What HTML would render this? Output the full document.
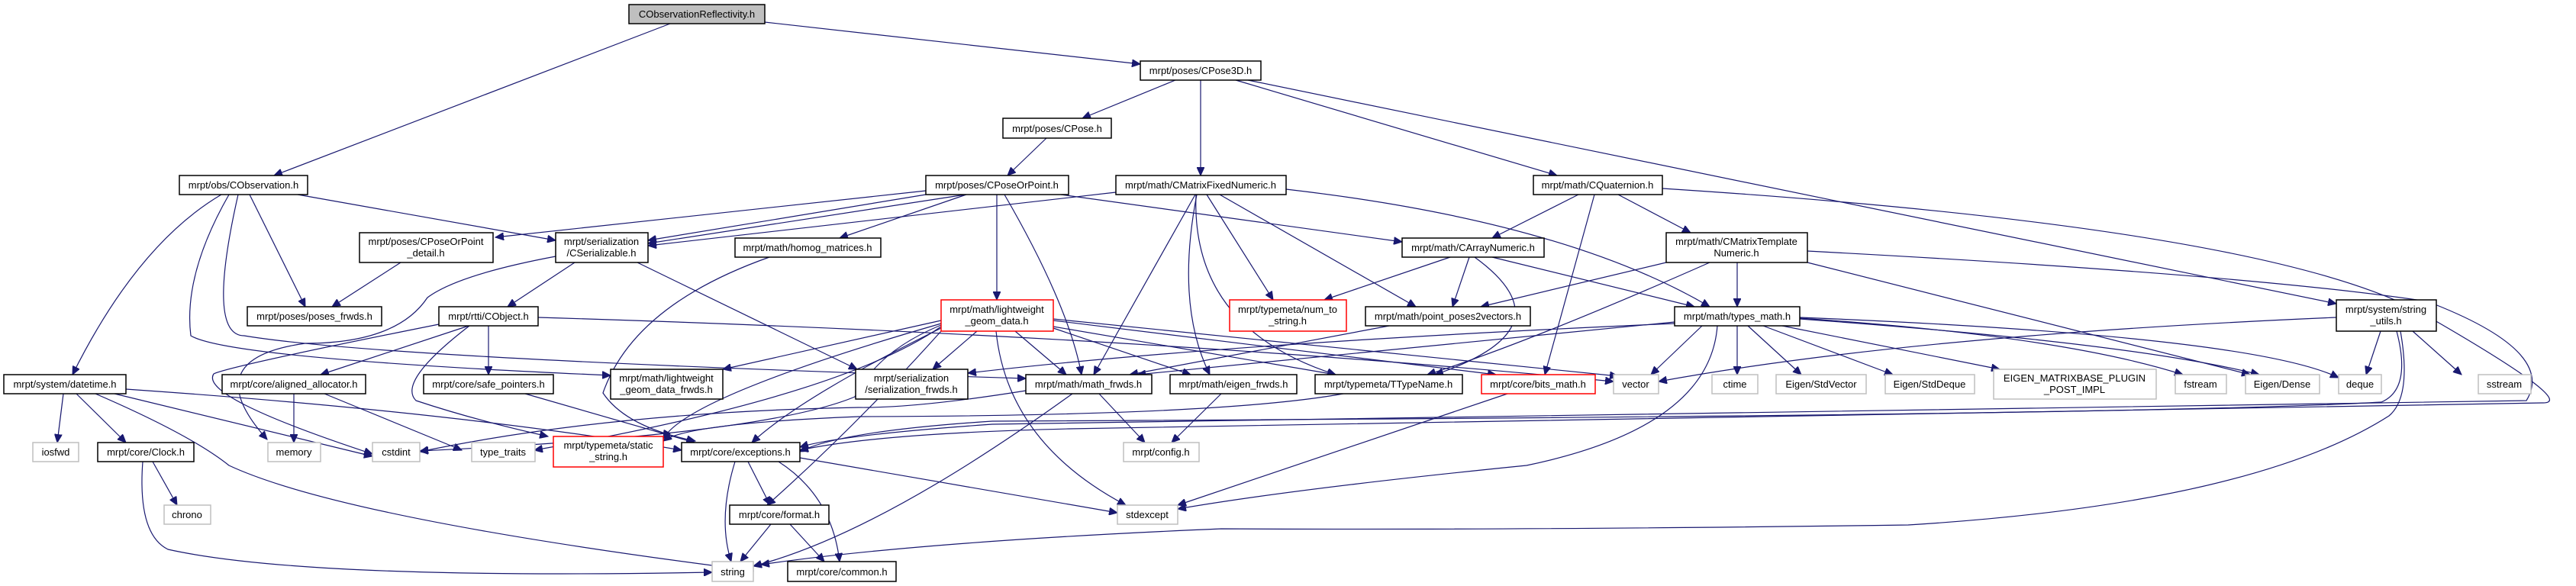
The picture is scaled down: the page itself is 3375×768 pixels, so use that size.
<!DOCTYPE html>
<html><head><meta charset="utf-8"><style>
html,body{margin:0;padding:0;background:#fff;}
svg{display:block;}
text{font-family:"Liberation Sans",sans-serif;font-size:13px;fill:#000;text-anchor:middle;}
.n rect{fill:#fff;stroke:#000;stroke-width:1.5;}
.g rect{fill:#fff;stroke:#bfbfbf;stroke-width:1.5;}
.r rect{fill:#fff;stroke:#ff0000;stroke-width:1.5;}
.e path{fill:none;stroke:#191970;stroke-width:1.2;marker-end:url(#a);}
</style></head><body>
<svg width="3375" height="768" viewBox="0 0 3375 768" xmlns="http://www.w3.org/2000/svg">
<defs><marker id="a" markerUnits="userSpaceOnUse" markerWidth="12" markerHeight="10" refX="11" refY="5" orient="auto"><path d="M0,0 L11,5 L0,10 z" fill="#191970" stroke="#191970"/></marker></defs>
<g class="e">
<path d="M878,31 L359,230"/>
<path d="M1002,29 L1494,84"/>
<path d="M1635,105 L3061,398"/>
<path d="M1540,105 L1418,155"/>
<path d="M1573,105 L1573,230"/>
<path d="M1619,105 L2040,230"/>
<path d="M1371,181 L1320,230"/>
<path d="M1213,250 L649,311"/>
<path d="M1213,255 L849,315"/>
<path d="M1265,255 L849,319"/>
<path d="M1266,255 L1100,312"/>
<path d="M1306,255 L1306,393"/>
<path d="M1316,255 Q1400,400 1417,491"/>
<path d="M1390,255 L1837,317"/>
<path d="M1462,252 L849,322"/>
<path d="M1566,255 L1433,491"/>
<path d="M1568,255 Q1540,400 1585,491"/>
<path d="M1567,255 Q1560,430 1750,491"/>
<path d="M1581,255 L1668,393"/>
<path d="M1598,255 L1855,402"/>
<path d="M1685,248 Q2050,290 2240,402"/>
<path d="M2068,255 L1955,312"/>
<path d="M2120,255 L2215,305"/>
<path d="M2089,255 L2024,491"/>
<path d="M2178,247 Q3000,300 3190,420 Q3380,530 3330,528 L1400,562 Q1150,568 1048,590"/>
<path d="M2276,344 L2276,402"/>
<path d="M2183,344 L1940,402"/>
<path d="M2240,344 Q2000,450 1870,491"/>
<path d="M2368,344 L2948,491"/>
<path d="M2368,329 Q2950,360 3180,395 Q3350,460 3310,525 L1300,556 Q1100,570 1048,586"/>
<path d="M1900,337 L1735,393"/>
<path d="M1925,337 L1903,402"/>
<path d="M1955,337 L2220,402"/>
<path d="M1932,337 Q2060,430 1880,491"/>
<path d="M1820,427 L1480,491"/>
<path d="M2194,422 L1490,491"/>
<path d="M2194,424 Q1600,450 1268,489"/>
<path d="M2230,427 L2163,491"/>
<path d="M2276,427 L2276,491"/>
<path d="M2290,427 L2360,491"/>
<path d="M2310,427 L2480,491"/>
<path d="M2335,427 L2620,484"/>
<path d="M2358,417 Q2700,440 2860,491"/>
<path d="M2358,418 Q2800,450 2960,491"/>
<path d="M2358,416 Q2950,440 3064,495"/>
<path d="M2250,427 Q2240,560 2000,610 Q1700,640 1543,667"/>
<path d="M3061,416 Q2500,440 2173,500"/>
<path d="M3119,434 L3100,491"/>
<path d="M3161,434 L3225,491"/>
<path d="M3140,434 Q3160,510 3120,527 Q2800,545 1300,552 Q1100,565 1048,592"/>
<path d="M3145,434 Q3160,520 3130,545 Q2950,660 2500,688 Q2000,695 1600,693 Q1200,710 997,740"/>
<path d="M1280,434 L1222,484"/>
<path d="M1330,434 L1397,491"/>
<path d="M1380,430 L1560,491"/>
<path d="M1380,428 L1750,491"/>
<path d="M1380,420 L1960,491"/>
<path d="M1380,418 L2120,493"/>
<path d="M1305,434 Q1320,580 1475,662"/>
<path d="M1233,420 Q1100,450 947,484"/>
<path d="M1233,424 Q900,520 869,575"/>
<path d="M1233,426 Q1150,460 1120,520 Q1000,570 550,591"/>
<path d="M1233,428 Q1100,520 700,590"/>
<path d="M1233,430 Q1050,520 985,580"/>
<path d="M1233,434 Q1120,560 1005,662"/>
<path d="M1405,516 Q1150,700 987,742"/>
<path d="M1440,516 L1500,580"/>
<path d="M1600,516 L1535,580"/>
<path d="M1344,512 Q1200,535 1125,534 Q800,540 550,592"/>
<path d="M1760,516 Q1600,545 1125,546 Q900,555 869,578"/>
<path d="M1975,516 L1543,662"/>
<path d="M1048,600 L1464,672"/>
<path d="M963,605 Q940,680 958,736"/>
<path d="M980,605 L1009,662"/>
<path d="M1020,605 Q1090,650 1100,736"/>
<path d="M1010,687 L970,736"/>
<path d="M1035,687 L1080,736"/>
<path d="M83,516 L75,580"/>
<path d="M100,516 L165,580"/>
<path d="M125,516 Q250,570 300,610 Q450,680 987,748"/>
<path d="M150,516 L488,598"/>
<path d="M165,510 Q600,540 893,590"/>
<path d="M200,605 L232,662"/>
<path d="M187,605 Q180,700 220,720 Q400,760 933,750"/>
<path d="M290,255 Q180,320 95,491"/>
<path d="M327,255 L400,402"/>
<path d="M390,255 L728,315"/>
<path d="M300,255 Q240,360 250,440 Q300,470 800,492"/>
<path d="M312,255 Q270,440 320,440 Q500,470 1344,496"/>
<path d="M525,344 L435,402"/>
<path d="M753,344 L665,402"/>
<path d="M728,336 Q600,360 560,390 Q520,450 400,450 Q255,470 350,576"/>
<path d="M835,344 L1123,484"/>
<path d="M705,416 Q1500,440 2114,500"/>
<path d="M614,427 L420,491"/>
<path d="M640,427 L640,491"/>
<path d="M615,427 Q520,500 545,525 Q620,550 718,572"/>
<path d="M575,425 Q300,480 280,490 Q260,520 488,595"/>
<path d="M385,516 L385,580"/>
<path d="M425,516 L605,590"/>
<path d="M688,516 L910,580"/>
<path d="M1008,337 Q830,400 790,515 Q820,560 911,578"/>
</g>
<g class="n"><rect x="824" y="6" width="178" height="25" style="fill:#bfbfbf"/><text x="913" y="23">CObservationReflectivity.h</text></g>
<g class="n"><rect x="235" y="230" width="168" height="25"/><text x="319" y="247">mrpt/obs/CObservation.h</text></g>
<g class="n"><rect x="471" y="305" width="175" height="39"/><text x="558" y="321">mrpt/poses/CPoseOrPoint</text><text x="558" y="336">_detail.h</text></g>
<g class="n"><rect x="728" y="305" width="121" height="39"/><text x="788" y="321">mrpt/serialization</text><text x="788" y="336">/CSerializable.h</text></g>
<g class="n"><rect x="963" y="312" width="191" height="25"/><text x="1058" y="329">mrpt/math/homog_matrices.h</text></g>
<g class="n"><rect x="324" y="402" width="176" height="25"/><text x="412" y="419">mrpt/poses/poses_frwds.h</text></g>
<g class="n"><rect x="575" y="402" width="130" height="25"/><text x="640" y="419">mrpt/rtti/CObject.h</text></g>
<g class="n"><rect x="5" y="491" width="160" height="25"/><text x="85" y="508">mrpt/system/datetime.h</text></g>
<g class="n"><rect x="291" y="491" width="188" height="25"/><text x="385" y="508">mrpt/core/aligned_allocator.h</text></g>
<g class="n"><rect x="555" y="491" width="170" height="25"/><text x="640" y="508">mrpt/core/safe_pointers.h</text></g>
<g class="n"><rect x="800" y="484" width="147" height="39"/><text x="873" y="500">mrpt/math/lightweight</text><text x="873" y="515">_geom_data_frwds.h</text></g>
<g class="g"><rect x="43" y="580" width="60" height="25"/><text x="73" y="597">iosfwd</text></g>
<g class="n"><rect x="128" y="580" width="126" height="25"/><text x="191" y="597">mrpt/core/Clock.h</text></g>
<g class="g"><rect x="351" y="580" width="69" height="25"/><text x="385" y="597">memory</text></g>
<g class="g"><rect x="488" y="580" width="62" height="25"/><text x="519" y="597">cstdint</text></g>
<g class="g"><rect x="618" y="580" width="83" height="25"/><text x="659" y="597">type_traits</text></g>
<g class="r"><rect x="725" y="572" width="144" height="40"/><text x="797" y="588">mrpt/typemeta/static</text><text x="797" y="603">_string.h</text></g>
<g class="n"><rect x="893" y="580" width="155" height="25"/><text x="970" y="597">mrpt/core/exceptions.h</text></g>
<g class="g"><rect x="215" y="662" width="61" height="25"/><text x="245" y="679">chrono</text></g>
<g class="n"><rect x="956" y="662" width="130" height="25"/><text x="1021" y="679">mrpt/core/format.h</text></g>
<g class="g"><rect x="933" y="736" width="54" height="26"/><text x="960" y="754">string</text></g>
<g class="n"><rect x="1032" y="736" width="142" height="26"/><text x="1103" y="754">mrpt/core/common.h</text></g>
<g class="n"><rect x="1494" y="80" width="158" height="25"/><text x="1573" y="97">mrpt/poses/CPose3D.h</text></g>
<g class="n"><rect x="1314" y="155" width="142" height="26"/><text x="1385" y="173">mrpt/poses/CPose.h</text></g>
<g class="n"><rect x="1213" y="230" width="187" height="25"/><text x="1306" y="247">mrpt/poses/CPoseOrPoint.h</text></g>
<g class="n"><rect x="1462" y="230" width="223" height="25"/><text x="1573" y="247">mrpt/math/CMatrixFixedNumeric.h</text></g>
<g class="n"><rect x="2009" y="230" width="169" height="25"/><text x="2093" y="247">mrpt/math/CQuaternion.h</text></g>
<g class="n"><rect x="1837" y="312" width="186" height="25"/><text x="1930" y="329">mrpt/math/CArrayNumeric.h</text></g>
<g class="n"><rect x="2183" y="305" width="185" height="39"/><text x="2275" y="321">mrpt/math/CMatrixTemplate</text><text x="2275" y="336">Numeric.h</text></g>
<g class="r"><rect x="1233" y="393" width="147" height="41"/><text x="1306" y="410">mrpt/math/lightweight</text><text x="1306" y="425">_geom_data.h</text></g>
<g class="r"><rect x="1611" y="393" width="153" height="41"/><text x="1687" y="410">mrpt/typemeta/num_to</text><text x="1687" y="425">_string.h</text></g>
<g class="n"><rect x="1789" y="402" width="216" height="25"/><text x="1897" y="419">mrpt/math/point_poses2vectors.h</text></g>
<g class="n"><rect x="2194" y="402" width="164" height="25"/><text x="2276" y="419">mrpt/math/types_math.h</text></g>
<g class="n"><rect x="1121" y="484" width="147" height="39"/><text x="1194" y="500">mrpt/serialization</text><text x="1194" y="515">/serialization_frwds.h</text></g>
<g class="n"><rect x="1344" y="491" width="165" height="25"/><text x="1426" y="508">mrpt/math/math_frwds.h</text></g>
<g class="n"><rect x="1533" y="491" width="166" height="25"/><text x="1616" y="508">mrpt/math/eigen_frwds.h</text></g>
<g class="n"><rect x="1723" y="491" width="193" height="25"/><text x="1819" y="508">mrpt/typemeta/TTypeName.h</text></g>
<g class="r"><rect x="1941" y="491" width="149" height="25"/><text x="2015" y="508">mrpt/core/bits_math.h</text></g>
<g class="g"><rect x="2114" y="491" width="59" height="25"/><text x="2143" y="508">vector</text></g>
<g class="g"><rect x="1472" y="580" width="99" height="25"/><text x="1521" y="597">mrpt/config.h</text></g>
<g class="g"><rect x="1464" y="662" width="79" height="25"/><text x="1503" y="679">stdexcept</text></g>
<g class="g"><rect x="2243" y="491" width="60" height="25"/><text x="2273" y="508">ctime</text></g>
<g class="g"><rect x="2327" y="491" width="118" height="25"/><text x="2386" y="508">Eigen/StdVector</text></g>
<g class="g"><rect x="2470" y="491" width="117" height="25"/><text x="2528" y="508">Eigen/StdDeque</text></g>
<g class="g"><rect x="2612" y="484" width="213" height="39"/><text x="2718" y="500">EIGEN_MATRIXBASE_PLUGIN</text><text x="2718" y="515">_POST_IMPL</text></g>
<g class="g"><rect x="2850" y="491" width="67" height="25"/><text x="2883" y="508">fstream</text></g>
<g class="g"><rect x="2942" y="491" width="97" height="25"/><text x="2990" y="508">Eigen/Dense</text></g>
<g class="g"><rect x="3064" y="491" width="56" height="25"/><text x="3092" y="508">deque</text></g>
<g class="g"><rect x="3247" y="491" width="69" height="25"/><text x="3281" y="508">sstream</text></g>
<g class="n"><rect x="3061" y="393" width="131" height="41"/><text x="3126" y="410">mrpt/system/string</text><text x="3126" y="425">_utils.h</text></g>
</svg>
</body></html>
